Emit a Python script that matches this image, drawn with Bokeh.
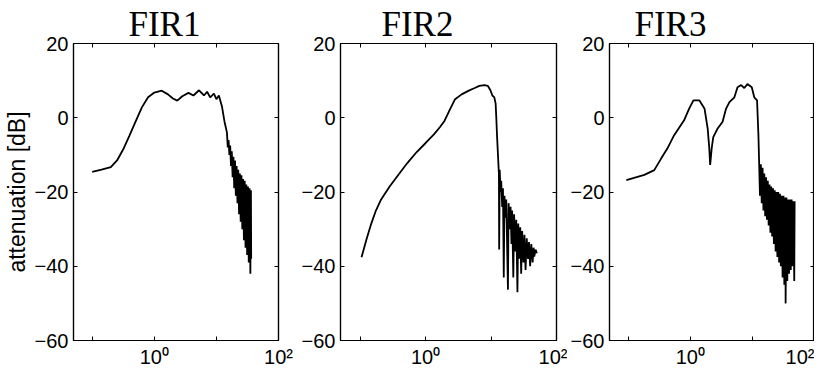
import numpy as np
from bokeh.plotting import figure
from bokeh.models import Range1d, FixedTicker, LogAxis, LinearAxis, Title, CustomJSTickFormatter
from bokeh.layouts import row
from bokeh.embed import file_html
from bokeh.resources import INLINE

# ---------------- data (log10 of frequency, attenuation in dB) ----------------
titles = ["FIR1", "FIR2", "FIR3"]
x_ticks = [0.1, 1, 10, 100]
x_tick_labels = ["", "10\u2070", "", "10\u00b2"]
y_ticks = [-60, -40, -20, 0, 20]
y_label = "attenuation [dB]"

fir1_logf = [-1.0, -0.85, -0.7, -0.6, -0.5, -0.4, -0.3, -0.2, -0.1, 0.0, 0.12, 0.22,
             0.3, 0.37, 0.45, 0.55, 0.63, 0.72, 0.8, 0.85, 0.9, 0.96, 1.0, 1.04, 1.09,
             1.13, 1.17,
             1.183, 1.196, 1.209, 1.222, 1.235, 1.248, 1.261, 1.274, 1.287, 1.300,
             1.313, 1.326, 1.339, 1.352, 1.365, 1.378, 1.391, 1.404, 1.417, 1.430,
             1.443, 1.456, 1.469, 1.482, 1.495, 1.508, 1.521, 1.534, 1.547, 1.556, 1.560]
fir1_db = [-14.6, -14.0, -13.3, -11.5, -8.5, -4.8, -1.0, 2.8, 5.5, 6.8, 7.3, 6.3,
           5.2, 4.6, 5.8, 6.7, 6.0, 7.4, 6.0, 7.0, 5.5, 6.5, 5.0, 6.0, 3.0,
           -1.0, -4.0,
           -8.0, -6.0, -10.0, -7.5, -13.0, -9.0, -16.0, -10.5, -19.0, -11.5,
           -21.0, -13.0, -23.0, -14.0, -26.0, -15.0, -28.0, -15.5, -30.0, -16.5,
           -33.0, -17.0, -35.0, -18.0, -37.0, -18.5, -39.0, -19.0, -42.0, -19.5, -38.0]

fir2_logf = [-0.98, -0.9, -0.84, -0.76, -0.68, -0.55, -0.41, -0.28, -0.14, 0.0, 0.13,
             0.22, 0.29, 0.37, 0.45, 0.55, 0.66, 0.75, 0.82, 0.9, 0.95, 0.99, 1.02,
             1.05, 1.07, 1.08, 1.09, 1.1, 1.12,
             1.124, 1.132, 1.145, 1.155, 1.170, 1.182, 1.194, 1.205, 1.220, 1.232,
             1.258, 1.268, 1.285, 1.298, 1.312, 1.322, 1.340, 1.352, 1.370, 1.385,
             1.403, 1.415, 1.432, 1.446, 1.460, 1.475, 1.495, 1.510, 1.527, 1.545,
             1.565, 1.580, 1.597, 1.615, 1.635, 1.650, 1.660, 1.680, 1.700]
fir2_db = [-37.6, -32.5, -29.0, -25.0, -22.0, -18.5, -15.2, -12.2, -9.3, -6.8, -4.4,
           -2.5, -0.8, 2.2, 5.0, 6.3, 7.3, 8.0, 8.6, 8.8, 8.6, 7.4, 6.0,
           5.5, 3.8, 0.0, -4.4, -8.0, -15.2,
           -35.5, -14.0, -20.0, -17.0, -24.0, -19.0, -43.0, -21.0, -27.0, -22.0,
           -46.3, -23.0, -30.0, -24.0, -34.0, -25.0, -43.0, -26.0, -36.0, -27.5,
           -47.0, -28.5, -38.0, -29.5, -42.0, -30.5, -39.0, -31.5, -41.0, -32.5,
           -38.0, -33.5, -40.0, -34.0, -39.0, -35.0, -37.4, -35.5, -36.5]

fir3_logf = [-1.03, -0.74, -0.58, -0.47, -0.37, -0.26, -0.1, -0.02, 0.05, 0.145, 0.23,
             0.28, 0.306, 0.32, 0.344, 0.37, 0.44, 0.52, 0.575, 0.63, 0.71, 0.76,
             0.82, 0.87, 0.92, 0.99, 1.03, 1.075, 1.097, 1.108,
             1.122, 1.136, 1.150, 1.164, 1.178, 1.192, 1.206, 1.220, 1.234, 1.248,
             1.262, 1.276, 1.290, 1.304, 1.318, 1.332, 1.346, 1.360, 1.374, 1.388,
             1.402, 1.416, 1.430, 1.444, 1.458, 1.472, 1.486, 1.500, 1.514, 1.530,
             1.535, 1.548, 1.562, 1.576, 1.590, 1.604, 1.618, 1.632, 1.646, 1.660,
             1.674, 1.680]
fir3_db = [-16.8, -15.4, -14.1, -11.0, -8.3, -4.7, -0.7, 2.4, 4.7, 4.7, 2.4,
           -2.9, -8.3, -12.7, -8.3, -5.2, -2.9, -1.1, 2.4, 4.2, 5.5, 8.2,
           8.8, 8.0, 9.1, 8.2, 5.5, 4.7, -4.7, -11.8,
           -21.0, -12.5, -23.0, -13.5, -25.0, -15.0, -26.5, -16.0, -27.5, -17.0,
           -29.0, -18.0, -31.0, -18.5, -32.0, -19.0, -34.0, -19.5, -36.0, -20.0,
           -37.5, -20.0, -39.0, -20.5, -40.0, -21.0, -43.0, -21.0, -45.0, -21.5,
           -50.0, -21.5, -44.0, -22.0, -42.0, -22.0, -41.0, -22.0, -40.0, -22.5,
           -44.0, -22.5]

series = [(fir1_logf, fir1_db), (fir2_logf, fir2_db), (fir3_logf, fir3_db)]

# ---------------- layout constants ----------------
fig_widths = [298, 269, 247]
borders_left = [64, 35, 34]
borders_right = [20, 11, 0]
title_offsets = [55, 41, 25]
FIG_H = 370
TICK_FONT = "Liberation Sans"

x_fmt = CustomJSTickFormatter(args=dict(vals=x_ticks, labs=x_tick_labels), code="""
for (let i = 0; i < vals.length; i++) {
  if (Math.abs(Math.log10(tick) - Math.log10(vals[i])) < 1e-6) return labs[i];
}
return '';
""")
blank_fmt = CustomJSTickFormatter(code="return '';")


def style_axis(ax, show_labels):
    ax.axis_line_color = "black"
    ax.axis_line_width = 1.2
    ax.major_tick_line_color = "black"
    ax.major_tick_in = 4
    ax.major_tick_out = 0
    ax.minor_tick_in = 0
    ax.minor_tick_out = 0
    ax.minor_tick_line_color = None
    ax.major_label_text_font = TICK_FONT
    ax.major_label_text_color = "black"
    if show_labels:
        ax.major_label_text_font_size = "20px"
        ax.major_label_standoff = 5
    else:
        ax.major_label_text_font_size = "1px"
        ax.major_label_standoff = 0


figs = []
for i, (logf, db) in enumerate(series):
    p = figure(width=fig_widths[i], height=FIG_H, x_axis_type="log",
               x_range=Range1d(0.05, 100), y_range=Range1d(-60, 20),
               output_backend="svg", toolbar_location=None,
               min_border_left=borders_left[i], min_border_right=borders_right[i],
               min_border_top=43, min_border_bottom=29)
    p.title = Title(text=titles[i], align="left", offset=title_offsets[i],
                    text_font="Liberation Serif", text_font_size="35px",
                    text_font_style="normal", text_color="black", standoff=0)
    p.grid.visible = False
    p.outline_line_color = "black"
    p.outline_line_width = 1.2
    p.background_fill_color = "white"
    p.border_fill_color = "white"

    freq = 10 ** np.array(logf)
    p.line(freq, db, line_color="black", line_width=1.8)

    xa = p.xaxis[0]
    xa.ticker = FixedTicker(ticks=x_ticks)
    xa.formatter = x_fmt
    style_axis(xa, True)

    ya = p.yaxis[0]
    ya.ticker = FixedTicker(ticks=y_ticks)
    style_axis(ya, True)
    if i == 0:
        ya.axis_label = y_label
        ya.axis_label_text_font = TICK_FONT
        ya.axis_label_text_font_size = "23px"
        ya.axis_label_text_font_style = "normal"
        ya.axis_label_text_color = "black"
        ya.axis_label_standoff = 2

    top = LogAxis(ticker=FixedTicker(ticks=x_ticks), formatter=blank_fmt)
    style_axis(top, False)
    p.add_layout(top, "above")
    right = LinearAxis(ticker=FixedTicker(ticks=y_ticks), formatter=blank_fmt)
    style_axis(right, False)
    p.add_layout(right, "right")

    figs.append(p)

layout = row(*figs)
open("out.html", "w").write(file_html(layout, INLINE))
